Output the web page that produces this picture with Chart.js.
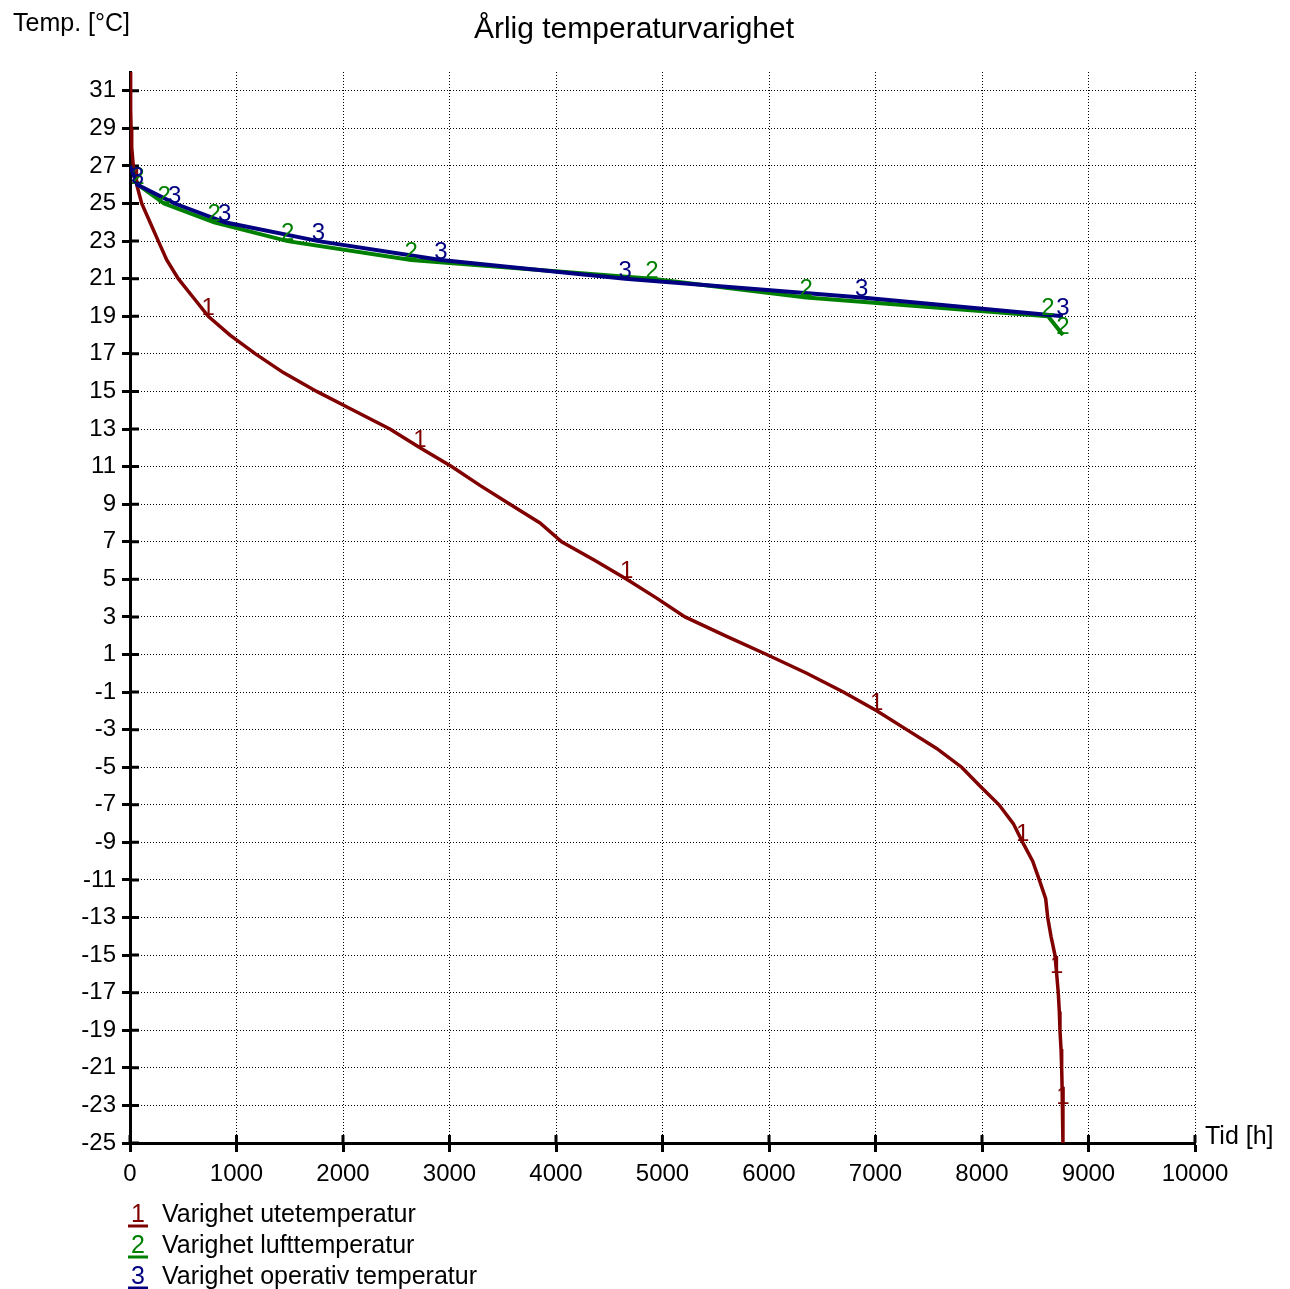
<!DOCTYPE html>
<html>
<head>
<meta charset="utf-8">
<script src="https://cdn.jsdelivr.net/npm/chart.js@4/dist/chart.umd.min.js"></script>
<style>
  body { margin: 0; background: #fff; }
  #wrap { width: 1290px; height: 1289px; position: relative; }
</style>
</head>
<body>
<div id="wrap"><canvas id="varighet-chart"></canvas></div>
<script>
// temperatures (y) and hours above that temperature (x)
var uteTemp = [32, 31, 30, 29, 28, 27, 26, 25, 24, 23, 22, 21, 20, 19, 18, 17, 16, 15, 14, 13, 12, 11, 10, 9, 8, 7, 6, 5, 4, 3, 2, 1, 0,
  -1, -2, -3, -4, -5, -6, -7, -8, -9, -10, -11, -12, -13, -14, -15, -16, -17, -18, -19, -20, -21, -22, -23, -24, -25];
var uteHours = [0, 5, 7, 10, 16, 31, 63, 110, 188, 266, 345, 453, 594, 735, 939, 1178, 1440, 1753, 2097, 2440, 2723, 3020, 3286, 3568, 3850, 4053, 4366, 4664, 4945,
  5211, 5587, 5978, 6354, 6698, 7011, 7293, 7574, 7809, 7981, 8160, 8294, 8382, 8476, 8538, 8598, 8617, 8648, 8685, 8701, 8716, 8726, 8732, 8742, 8748, 8752, 8760, 8760, 8760];

var luftTemp = [27, 26, 25, 24, 23, 22, 21, 20, 19, 18];
var luftHours = [0, 75, 320, 790, 1480, 2640, 4900, 6350, 8620, 8760];

var opTemp = [27, 26, 25, 24, 23, 22, 21, 20, 19];
var opHours = [0, 70, 420, 890, 1770, 2920, 4650, 6870, 8760];

var seriesNames = ['Varighet utetemperatur', 'Varighet lufttemperatur', 'Varighet operativ temperatur'];
var yTicks = [];
for (var t = -25; t <= 31; t += 2) yTicks.push(t);
var xTicks = [0, 1000, 2000, 3000, 4000, 5000, 6000, 7000, 8000, 9000, 10000];

function pts(xs, ys) {
  return xs.map(function(x, i){ return {x: x, y: ys[i]}; });
}

var FONT = '"Liberation Sans", Arial, sans-serif';

// the little "1", "2", "3" labels sitting on the curves + title, axis titles, legend
var decor = {
  id: 'decor',
  beforeDatasetsDraw: function(chart) {
    // tick marks also poke a bit into the plot
    var ctx = chart.ctx;
    var xs = chart.scales.x, ys = chart.scales.y;
    ctx.save();
    ctx.strokeStyle = '#000';
    ctx.lineWidth = 3;
    ctx.beginPath();
    ys.ticks.forEach(function(tk) {
      var py = ys.getPixelForValue(tk.value);
      ctx.moveTo(xs.left, py);
      ctx.lineTo(xs.left + 9, py);
    });
    xs.ticks.forEach(function(tk) {
      var px = xs.getPixelForValue(tk.value);
      ctx.moveTo(px, ys.bottom);
      ctx.lineTo(px, ys.bottom - 8);
    });
    ctx.stroke();
    ctx.restore();
  },
  afterDatasetsDraw: function(chart) {
    var ctx = chart.ctx;
    var xs = chart.scales.x, ys = chart.scales.y;
    ctx.save();
    ctx.font = '24px ' + FONT;
    ctx.textAlign = 'center';
    ctx.textBaseline = 'alphabetic';
    chart.data.datasets.forEach(function(ds) {
      ds.data.forEach(function(p, i) {
        if (i < ds.labelStart || (i - ds.labelStart) % ds.labelEvery) return;
        ctx.fillStyle = ds.borderColor;
        ctx.fillText(ds.tag, xs.getPixelForValue(p.x), ys.getPixelForValue(p.y) - 1);
      });
    });

    ctx.fillStyle = '#000';
    ctx.font = '30px ' + FONT;
    ctx.textBaseline = 'middle';
    ctx.fillText('Årlig temperaturvarighet', 634, 30);

    ctx.font = '25px ' + FONT;
    ctx.textAlign = 'right';
    ctx.fillText('Temp. [°C]', xs.left, 24);
    ctx.textAlign = 'left';
    ctx.fillText('Tid [h]', xs.right + 10, ys.bottom - 6);

    // legend
    var ly = 1215;
    chart.data.datasets.forEach(function(ds) {
      ctx.fillStyle = ds.borderColor;
      ctx.textAlign = 'center';
      ctx.fillText(ds.tag, 138, ly);
      ctx.strokeStyle = ds.borderColor;
      ctx.lineWidth = 3;
      ctx.beginPath();
      ctx.moveTo(128, ly + 11);
      ctx.lineTo(148, ly + 11);
      ctx.stroke();
      ctx.fillStyle = '#000';
      ctx.textAlign = 'left';
      ctx.fillText(ds.label, 162, ly);
      ly += 31;
    });
    ctx.restore();
  }
};

var ctx = document.getElementById('varighet-chart');
var chart = new Chart(ctx, {
  type: 'scatter',
  data: {
    datasets: [{
      label: seriesNames[0], tag: '1', labelStart: 6, labelEvery: 7,
      data: pts(uteHours, uteTemp),
      borderColor: '#800000', borderWidth: 3.5, order: 3
    }, {
      label: seriesNames[1], tag: '2', labelStart: 1, labelEvery: 1,
      data: pts(luftHours, luftTemp),
      borderColor: '#008000', borderWidth: 4, order: 2
    }, {
      label: seriesNames[2], tag: '3', labelStart: 1, labelEvery: 1,
      data: pts(opHours, opTemp),
      borderColor: '#000080', borderWidth: 4, order: 1
    }]
  },
  options: {
    responsive: true,
    maintainAspectRatio: false,
    animation: false,
    showLine: true,
    elements: { point: { radius: 0, hoverRadius: 0 }, line: { tension: 0, fill: false } },
    layout: { padding: { left: 0, top: 72, right: 95, bottom: 96 } },
    plugins: { legend: { display: false }, tooltip: { enabled: false } },
    scales: {
      x: {
        type: 'linear', min: 0, max: 10000,
        afterBuildTicks: function(s){ s.ticks = xTicks.map(function(v){ return {value: v}; }); },
        afterFit: function(s){ s.height = 50; },
        border: { color: '#000', width: 3, dash: [1, 2] },
        grid: { color: '#000', lineWidth: 1, tickColor: '#000', tickWidth: 3, tickLength: 9, tickBorderDash: [] },
        ticks: { color: '#000', font: { family: FONT, size: 24 }, padding: 8, maxRotation: 0, autoSkip: false,
          callback: function(v){ return String(v); } }
      },
      y: {
        type: 'linear', min: -25, max: 32,
        afterBuildTicks: function(s){ s.ticks = yTicks.map(function(v){ return {value: v}; }); },
        afterFit: function(s){ s.width = 130; },
        border: { color: '#000', width: 3, dash: [1, 2] },
        grid: { color: '#000', lineWidth: 1, tickColor: '#000', tickWidth: 3, tickLength: 8, tickBorderDash: [] },
        ticks: { color: '#000', font: { family: FONT, size: 24 }, padding: 6, autoSkip: false,
          callback: function(v){ return String(v); } }
      }
    }
  },
  plugins: [decor]
});
</script>
</body>
</html>
